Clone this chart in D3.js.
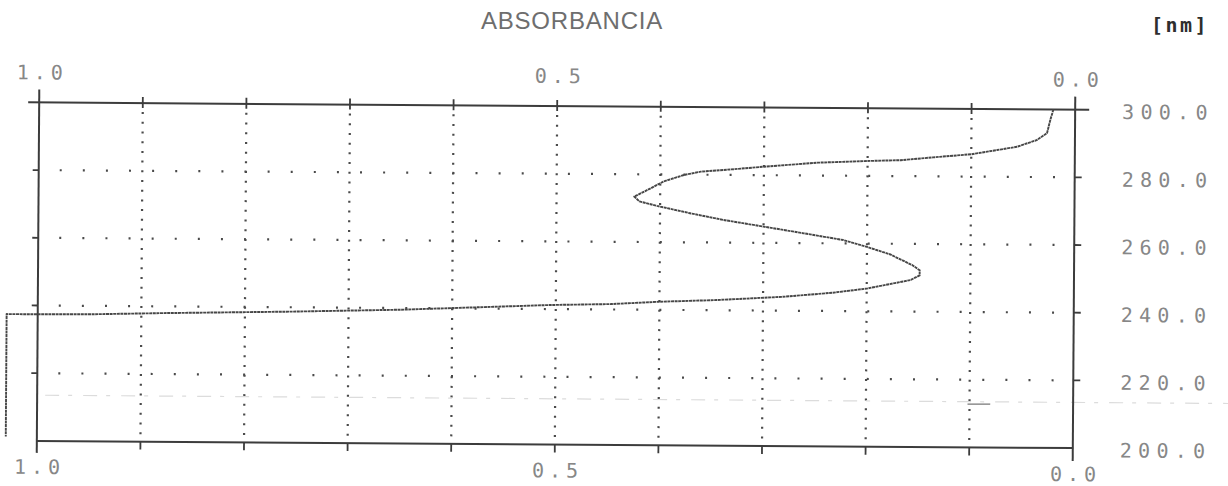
<!DOCTYPE html>
<html>
<head>
<meta charset="utf-8">
<script src="https://cdn.jsdelivr.net/npm/d3@7"></script>
<style>
  html, body { margin: 0; padding: 0; background: #fff; }
  svg { display: block; }
  .lbl { font-family: "DejaVu Sans Mono", monospace; font-size: 20px; letter-spacing: 5px; fill: #878787; }
  .lbl-r { letter-spacing: 6.3px; }
</style>
</head>
<body>
<svg id="chart" width="1228" height="486"></svg>
<script>
// Absorbance spectrum, recorder trace: wavelength (nm) vs absorbance
const wavelengthNm = [300.0, 296.8, 293.0, 290.9, 288.9, 287.9, 286.6, 285.6, 284.7, 284.4,
  283.8, 282.5, 281.7, 280.9, 279.9, 277.9, 275.9, 273.4, 272.0, 270.7,
  268.6, 266.7, 264.8, 262.9, 261.0, 259.0, 256.9, 253.7, 252.2, 250.7,
  249.3, 247.7, 246.7, 245.4, 244.1, 243.0, 242.4, 241.6, 241.2, 239.5,
  238.7, 238.0, 237.5, 237.4, 237.4, 201.2];
const absorbance = [0.021, 0.024, 0.027, 0.037, 0.056, 0.075, 0.100, 0.137, 0.168, 0.200,
  0.248, 0.300, 0.329, 0.361, 0.377, 0.397, 0.409, 0.425, 0.420, 0.403,
  0.371, 0.339, 0.300, 0.261, 0.223, 0.200, 0.178, 0.156, 0.149, 0.149,
  0.158, 0.184, 0.200, 0.233, 0.281, 0.345, 0.399, 0.447, 0.505, 0.650,
  0.757, 0.880, 0.950, 1.000, 1.030, 1.030];

const absGrid = [0.9, 0.8, 0.7, 0.6, 0.5, 0.4, 0.3, 0.2, 0.1];
const absTicks = [1.0, 0.9, 0.8, 0.7, 0.6, 0.5, 0.4, 0.3, 0.2, 0.1, 0.0];
const absLabels = [1.0, 0.5, 0.0];
const nmGrid = [280, 260, 240, 220];
const nmLabels = [300, 280, 260, 240, 220, 200];

const svg = d3.select("#chart");

const x = d3.scaleLinear().domain([1, 0]).range([38, 1074]);
const y = d3.scaleLinear().domain([200, 300]).range([444.5, 106]);

// title and unit
svg.append("text")
  .attr("x", 572).attr("y", 20)
  .attr("text-anchor", "middle").attr("dominant-baseline", "central")
  .style("font-family", "'Liberation Sans', Arial, sans-serif")
  .style("font-size", "24px").style("letter-spacing", "0.8px")
  .style("fill", "#6e6e6e")
  .text("ABSORBANCIA");

svg.append("text")
  .attr("x", 1151).attr("y", 25)
  .attr("dominant-baseline", "central")
  .style("font-family", "'DejaVu Sans Mono', monospace")
  .style("font-size", "20px").style("font-weight", "bold")
  .style("letter-spacing", "2.5px")
  .style("fill", "#2e2e2e")
  .text("[nm]");

// the paper sits slightly skewed on the recorder
const g = svg.append("g").attr("transform", "rotate(0.4, 556, 275)");

const ink = "#3c3c3c";
const yTop = y(300), yBot = y(200);
const xLeft = x(1), xRight = x(0);

// dotted grid
g.append("g").selectAll("line").data(absGrid).join("line")
  .attr("x1", d => x(d)).attr("x2", d => x(d))
  .attr("y1", yTop + 9).attr("y2", yBot - 6)
  .attr("stroke", "#4a4a4a").attr("stroke-width", 2.2)
  .attr("stroke-dasharray", "2 7.7");

g.append("g").selectAll("line").data(nmGrid).join("line")
  .attr("x1", xLeft + 21).attr("x2", xRight - 12)
  .attr("y1", d => y(d)).attr("y2", d => y(d))
  .attr("stroke", "#4a4a4a").attr("stroke-width", 2.2)
  .attr("stroke-dasharray", "2 21.1");

// faint trace left on the paper
g.append("line")
  .attr("x1", xLeft + 8).attr("x2", 1240)
  .attr("y1", y(213.5)).attr("y2", y(213.5))
  .attr("stroke", "#dcdcdc").attr("stroke-width", 1.2)
  .attr("stroke-dasharray", "14 9 4 11");
g.append("line")
  .attr("x1", x(0.1) - 2).attr("x2", x(0.08))
  .attr("y1", y(212.8)).attr("y2", y(212.8))
  .attr("stroke", "#777").attr("stroke-width", 1.2);

// frame
const frame = g.append("g").attr("stroke", ink).attr("stroke-width", 2);
frame.append("line").attr("x1", xLeft - 11).attr("x2", xRight + 14).attr("y1", yTop).attr("y2", yTop);
frame.append("line").attr("x1", xLeft).attr("x2", xRight).attr("y1", yBot).attr("y2", yBot);
frame.append("line").attr("x1", xLeft).attr("x2", xLeft).attr("y1", yTop - 13).attr("y2", yBot + 12);
frame.append("line").attr("x1", xRight).attr("x2", xRight).attr("y1", yTop - 13).attr("y2", yBot + 13);

// ticks
const ticks = g.append("g").attr("stroke", ink).attr("stroke-width", 1.8);
ticks.selectAll(".tt").data(absTicks.slice(1, -1)).join("line").attr("class", "tt")
  .attr("x1", d => x(d)).attr("x2", d => x(d)).attr("y1", yTop - 6).attr("y2", yTop + 5);
ticks.selectAll(".bt").data(absTicks.slice(1, -1)).join("line").attr("class", "bt")
  .attr("x1", d => x(d)).attr("x2", d => x(d)).attr("y1", yBot).attr("y2", yBot + 8);
ticks.selectAll(".lt").data(nmGrid).join("line").attr("class", "lt")
  .attr("x1", xLeft - 6).attr("x2", xLeft).attr("y1", d => y(d)).attr("y2", d => y(d));
ticks.selectAll(".rt").data(nmGrid).join("line").attr("class", "rt")
  .attr("x1", xRight).attr("x2", xRight + 7).attr("y1", d => y(d)).attr("y2", d => y(d));

// absorbance labels, top and bottom
const fmt = d3.format(".1f");
const topAxis = d3.axisTop(x).tickValues(absLabels).tickFormat(fmt).tickSize(0).tickPadding(0);
const botAxis = d3.axisBottom(x).tickValues(absLabels).tickFormat(fmt).tickSize(0).tickPadding(0);
const ta = g.append("g").attr("transform", `translate(0,${yTop - 30})`).call(topAxis);
const ba = g.append("g").attr("transform", `translate(0,${yBot + 26})`).call(botAxis);
[ta, ba].forEach(a => {
  a.select(".domain").remove();
  a.attr("font-family", null).attr("font-size", null);
  a.selectAll("text").attr("class", "lbl").attr("y", 0).attr("dy", null)
    .attr("dominant-baseline", "central").attr("dx", "2.5px");
});

// wavelength labels, right side
const rightAxis = d3.axisRight(y).tickValues(nmLabels).tickFormat(fmt).tickSize(0).tickPadding(0);
const ra = g.append("g").attr("transform", `translate(${xRight + 47},1.5)`).call(rightAxis);
ra.select(".domain").remove();
ra.attr("font-family", null).attr("font-size", null);
ra.selectAll("text").attr("class", "lbl lbl-r").attr("x", 0).attr("dy", null)
  .attr("dominant-baseline", "central");

// spectrum trace
const pts = wavelengthNm.map((w, i) => [absorbance[i], w]);
const line = d3.line().x(d => x(d[0])).y(d => y(d[1]));
g.append("path").datum(pts)
  .attr("d", line)
  .attr("fill", "none")
  .attr("stroke", "#474747")
  .attr("stroke-width", 1.9)
  .attr("stroke-dasharray", "3 0.6")
  .attr("stroke-linejoin", "round");
</script>
</body>
</html>
